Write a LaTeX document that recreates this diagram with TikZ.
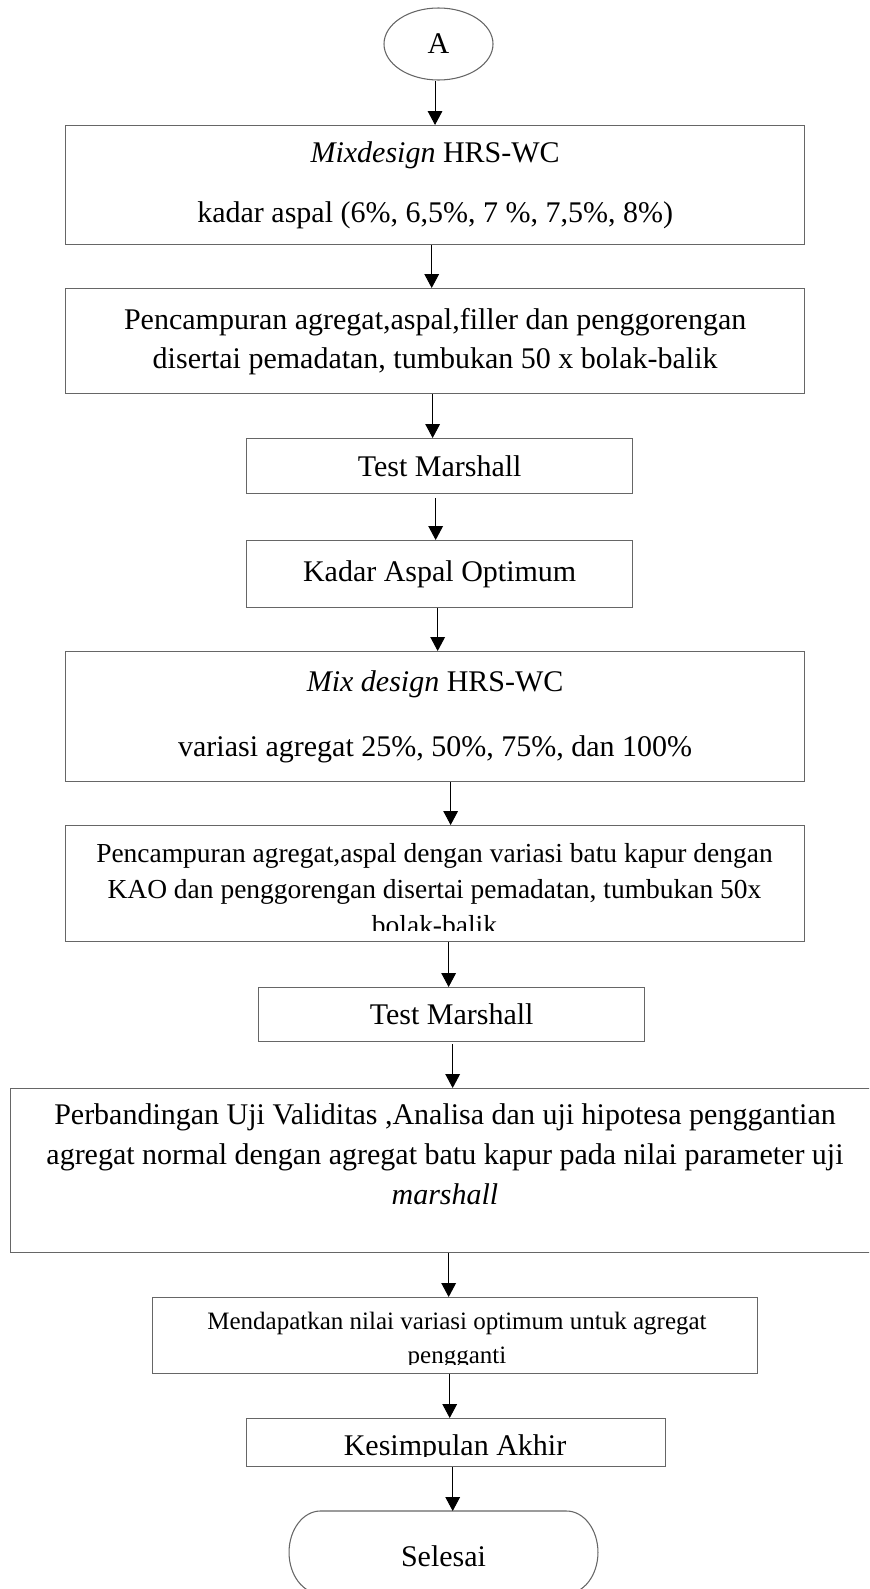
\documentclass[tikz,border=0pt]{standalone}
\usepackage{fontspec}
\setmainfont{Liberation Serif}[Ligatures=NoCommon]
\usetikzlibrary{arrows.meta,shapes.geometric}
\definecolor{edgegray}{HTML}{666666}
\newcommand{\fsmain}{\fontsize{22.5pt}{28.5pt}\selectfont}
\begin{document}
\begin{tikzpicture}[x=0.75pt,y=-0.75pt,
  box/.style={draw=edgegray,line width=1pt,rectangle,inner sep=0pt,anchor=north west,align=center,font=\fsmain},
  txt/.style={align=center,inner sep=0pt},
  arr/.style={draw=black,line width=0.75pt,-{Triangle[length=10.5pt,width=11pt]}},
  endline/.style={draw=edgegray,line width=0.8pt}
]
\useasboundingbox (0,0) rectangle (869,1589);
\clip (0,0) rectangle (869,1589);

% start connector
\node[ellipse,draw=edgegray,line width=0.8pt,minimum width=81.75pt,minimum height=54pt,inner sep=0pt,font=\fsmain] (A) at (438.5,44) {A};

\node[box,minimum width=554.25pt,minimum height=89.25pt,font=\fontsize{22.5pt}{45pt}\selectfont] (b1) at (65,125)
  {\textit{Mixdesign} HRS-WC\\kadar aspal (6\%, 6,5\%, 7 \%, 7,5\%, 8\%)};

\node[box,minimum width=554.25pt,minimum height=78.75pt,font=\fontsize{22.5pt}{29.25pt}\selectfont] (b2) at (65,288)
  {Pencampuran agregat,aspal,filler dan penggorengan\\disertai pemadatan, tumbukan 50 x bolak-balik};

\node[box,minimum width=289.5pt,minimum height=41.25pt] (b3) at (246,438) {Test Marshall};

\node[box,minimum width=289.5pt,minimum height=50.25pt] (b4) at (246,540) {Kadar Aspal Optimum};

\node[box,minimum width=554.25pt,minimum height=97.5pt,font=\fontsize{22.5pt}{49pt}\selectfont] (b5) at (65,651)
  {\textit{Mix design} HRS-WC\\variasi agregat 25\%, 50\%, 75\%, dan 100\%};

\node[box,minimum width=554.25pt,minimum height=87pt] (b6) at (65,825) {};
\begin{scope}
  \clip (b6.north west) rectangle ([yshift=9pt]b6.south east);
  \node[txt,font=\fontsize{20.6pt}{27pt}\selectfont] (t6) at (434.5,889)
    {Pencampuran agregat,aspal dengan variasi batu kapur dengan\\KAO dan penggorengan disertai pemadatan, tumbukan 50x\\bolak-balik};
\end{scope}

\node[box,minimum width=289.5pt,minimum height=40.5pt] (b7) at (258,987) {Test Marshall};

\node[box,minimum width=646.5pt,minimum height=123pt] (b8) at (10,1088) {};
\node[txt,font=\fontsize{22.5pt}{30pt}\selectfont] (t8) at (445,1154)
  {Perbandingan Uji Validitas ,Analisa dan uji hipotesa penggantian\\agregat normal dengan agregat batu kapur pada nilai parameter uji\\\textit{marshall}};

\node[box,minimum width=453.75pt,minimum height=57pt] (b9) at (152,1297) {};
\begin{scope}
  \clip (b9.north west) rectangle ([yshift=7.5pt]b9.south east);
  \node[txt,font=\fontsize{18.75pt}{25.5pt}\selectfont] (t9) at (457,1341)
    {Mendapatkan nilai variasi optimum untuk agregat\\pengganti};
\end{scope}

\node[box,minimum width=314.25pt,minimum height=36pt] (b10) at (246,1418) {};
\begin{scope}
  \clip (b10.north west) rectangle ([yshift=8.25pt]b10.south east);
  \node[txt,font=\fsmain] (t10) at (455,1448) {Kesimpulan Akhir};
\end{scope}

% terminal
\node[rectangle,inner sep=0pt,font=\fsmain] (end) at (443.5,1556) {Selesai};
\draw[endline] ([shift={(-123,-45)}]end.center) -- ([shift={(123,-45)}]end.center)
  arc[start angle=90,end angle=-90,x radius=23.6pt,y radius=31pt]
  -- ([shift={(-123,37.67)}]end.center)
  arc[start angle=270,end angle=90,x radius=23.6pt,y radius=31pt] -- cycle;
\coordinate (endtop) at ([shift={(0,-45)}]end.center);

% connectors
\draw[arr] ([xshift=-2.6pt]A.south) -- ([xshift=-2.6pt]A.south |- b1.north);
\draw[arr] ([xshift=-2.6pt]b1.south) -- ([xshift=-2.6pt]b1.south |- b2.north);
\draw[arr] ([xshift=-1.9pt]b2.south) -- ([xshift=-1.9pt]b2.south |- b3.north);
\draw[arr] ([xshift=-3pt,yshift=-3pt]b3.south) -- ([xshift=-3pt]b3.south |- b4.north);
\draw[arr] ([xshift=-1.5pt]b4.south) -- ([xshift=-1.5pt]b4.south |- b5.north);
\draw[arr] ([xshift=11.6pt]b5.south) -- ([xshift=11.6pt]b5.south |- b6.north);
\draw[arr] ([xshift=10.1pt]b6.south) -- ([xshift=10.1pt]b6.south |- b7.north);
\draw[arr] ([xshift=0.75pt,yshift=-1.5pt]b7.south) -- ([xshift=0.75pt]b7.south |- b8.north);
\draw[arr] ([xshift=5.25pt]b8.south) -- ([xshift=5.25pt]b8.south |- b9.north);
\draw[arr] ([xshift=-4.1pt]b9.south) -- ([xshift=-4.1pt]b9.south |- b10.north);
\draw[arr] ([xshift=-2.6pt]b10.south) -- ([xshift=-2.6pt]b10.south |- endtop);
\end{tikzpicture}
\end{document}
